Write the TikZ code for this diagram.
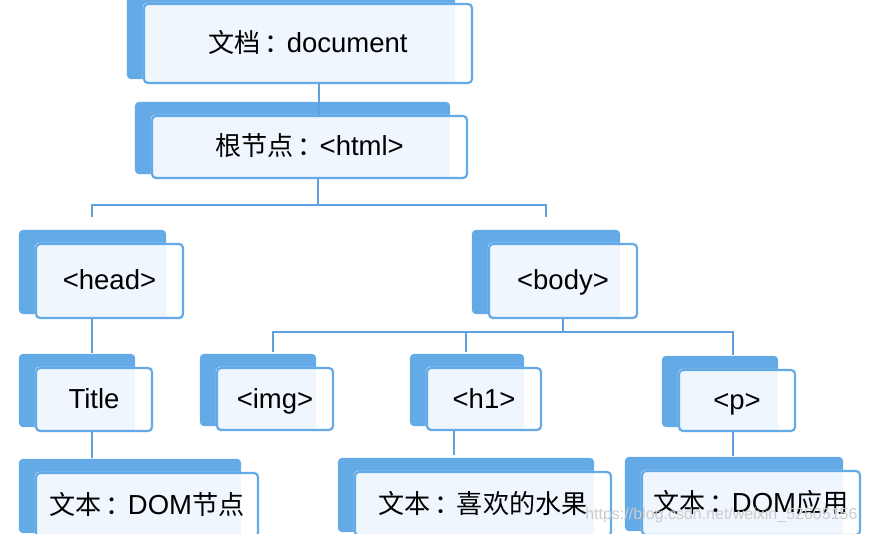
\documentclass[tikz,border=0pt]{standalone}
\usepackage{fontspec}
\setmainfont{Liberation Sans}
\newfontfamily\cjk[Scale=0.95]{Noto Sans CJK SC}
\newcommand\cjkcolon{\kern0.15em：\kern-0.15em}
\usetikzlibrary{backgrounds}
\definecolor{mmblue}{RGB}{100,170,230}
\definecolor{mmline}{RGB}{96,160,222}
\definecolor{mmlight}{RGB}{239,246,253}
\tikzset{
  topic/.style={draw=mmblue, line width=2.2pt, rounded corners=4pt, inner sep=0pt,
    text height=22pt, text depth=4pt, font=\fontsize{27.5}{32}\selectfont},
  link/.style={draw=mmline, line width=2.6pt},
}

\begin{document}
\begin{tikzpicture}[x=1pt,y=-1pt]
			\useasboundingbox (0,0) rectangle (869,534);
			% topics
			\node[topic, minimum width=328pt, minimum height=79pt] (doc) at (308,43.5) {{\cjk 文档\cjkcolon}document};
			\node[topic, minimum width=315pt, minimum height=62pt] (html) at (309.5,147) {{\cjk 根节点\cjkcolon}<html>};
			\node[topic, minimum width=147pt, minimum height=74pt] (head) at (109.5,281) {<head>};
			\node[topic, minimum width=148pt, minimum height=74pt] (body) at (563,281) {<body>};
			\node[topic, minimum width=116pt, minimum height=63pt] (title) at (94,399.5) {Title};
			\node[topic, minimum width=116pt, minimum height=62pt] (img) at (275,399) {<img>};
			\node[topic, minimum width=114pt, minimum height=62pt] (h1) at (484,399) {<h1>};
			\node[topic, minimum width=116pt, minimum height=61pt] (p) at (737,400.5) {<p>};
			\node[topic, minimum width=222pt, minimum height=64pt] (dom) at (147,505) {{\cjk 文本\cjkcolon}DOM{\cjk 节点}};
			\node[topic, minimum width=256pt, minimum height=64pt] (fruit) at (483,504) {{\cjk 文本\cjkcolon 喜欢的水果}};
			\node[topic, minimum width=218pt, minimum height=64pt] (app) at (751,503) {{\cjk 文本\cjkcolon}DOM{\cjk 应用}};
			% back plates
			\begin{scope}[on background layer]
				\foreach \n in {doc,html,head,body,title,img,h1,p,dom,fruit,app}{
					\fill[mmblue, rounded corners=4pt] ([xshift=-16pt,yshift=5pt]\n.south west) rectangle ([xshift=-18pt,yshift=13pt]\n.north east);
					\fill[white, rounded corners=4pt] (\n.south west) rectangle (\n.north east);
					\fill[mmlight] ([shift={(1.5pt,1.5pt)}]\n.south west) rectangle ([xshift=-18pt,yshift=-1.5pt]\n.north east);
				}
			\end{scope}
			% links
			\draw[link] ([xshift=11pt]doc.south) -- ([xshift=11pt]doc.south |- html.north);
			\coordinate (hbus) at ([xshift=8.5pt,yshift=-26pt]html.south);
			\draw[link] ([xshift=8.5pt]html.south) -- (hbus);
			\coordinate (headtop) at ([xshift=-17.5pt,yshift=26pt]head.north);
			\coordinate (bodytop) at ([xshift=-17pt,yshift=26pt]body.north);
			\draw[link] (headtop) |- (hbus) -| (bodytop);
			\coordinate (titletop) at ([yshift=14pt]title.north);
			\draw[link] ([xshift=-17.5pt]head.south) -- ([xshift=-17.5pt]head.south |- titletop);
			\coordinate (bbus) at ([yshift=-13pt]body.south);
			\draw[link] (body.south) -- (bbus);
			\coordinate (imgtop) at ([xshift=-2pt,yshift=15pt]img.north);
			\coordinate (ptop) at ([xshift=-4pt,yshift=14pt]p.north);
			\draw[link] (imgtop) |- (bbus) -| (ptop);
			\coordinate (h1top) at ([xshift=-18pt,yshift=15pt]h1.north);
			\draw[link] (h1top) -- (h1top |- bbus);
			\coordinate (domtop) at ([yshift=14pt]dom.north);
			\draw[link] ([xshift=-2pt]title.south) -- ([xshift=-2pt]title.south |- domtop);
			\coordinate (fruittop) at ([yshift=16pt]fruit.north);
			\draw[link] ([xshift=-30pt]h1.south) -- ([xshift=-30pt]h1.south |- fruittop);
			\coordinate (apptop) at ([yshift=14pt]app.north);
			\draw[link] ([xshift=-4pt]p.south) -- ([xshift=-4pt]p.south |- apptop);
			% watermark
			\node[anchor=east, text=gray!40, font=\fontsize{16}{18}\selectfont] (mark) at (861,515) {https://blog.csdn.net/weixin\_52605156};
		\end{tikzpicture}
\end{document}
